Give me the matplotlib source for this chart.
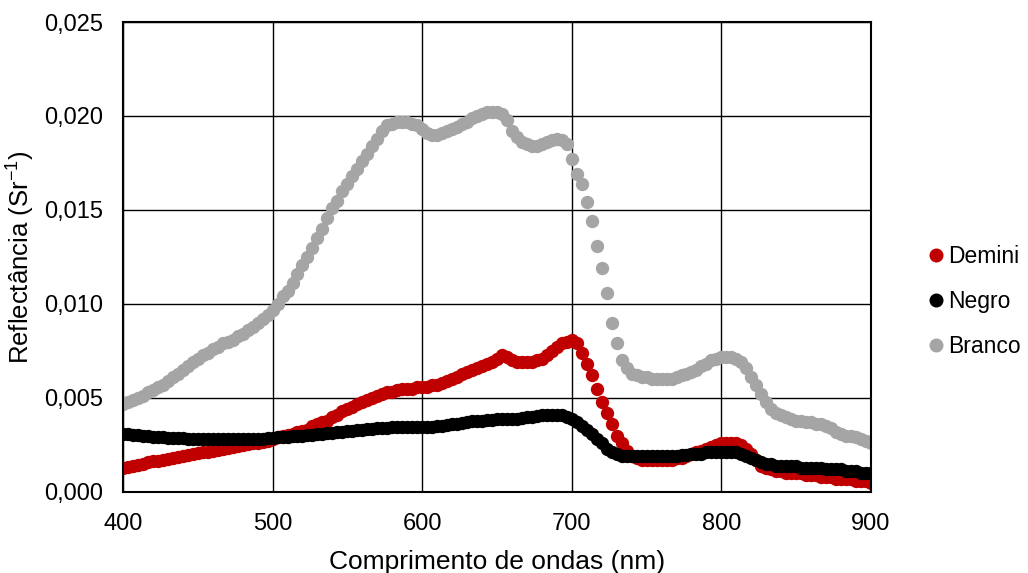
import numpy as np
import matplotlib.pyplot as plt
from matplotlib.ticker import FuncFormatter

# wavelength grid (nm), one reading every 10/3 nm
wavelength = np.linspace(400, 900, 151)

# reflectance values (Sr^-1), rows of 15 = 50 nm each
demini = [
    0.00130, 0.00135, 0.00140, 0.00145, 0.00150, 0.00158, 0.00163, 0.00167, 0.00170, 0.00176, 0.00180, 0.00185, 0.00190, 0.00195, 0.00200,
    0.00206, 0.00210, 0.00215, 0.00220, 0.00225, 0.00230, 0.00235, 0.00240, 0.00245, 0.00250, 0.00255, 0.00260, 0.00263, 0.00267, 0.00270,
    0.00280, 0.00290, 0.00300, 0.00305, 0.00310, 0.00320, 0.00325, 0.00330, 0.00350, 0.00360, 0.00370, 0.00380, 0.00400, 0.00410, 0.00430,
    0.00440, 0.00450, 0.00470, 0.00480, 0.00490, 0.00500, 0.00510, 0.00520, 0.00530, 0.00530, 0.00540, 0.00550, 0.00550, 0.00550, 0.00560,
    0.00560, 0.00560, 0.00570, 0.00570, 0.00580, 0.00590, 0.00600, 0.00610, 0.00630, 0.00640, 0.00650, 0.00660, 0.00670, 0.00680, 0.00690,
    0.00710, 0.00730, 0.00720, 0.00700, 0.00690, 0.00690, 0.00690, 0.00690, 0.00700, 0.00710, 0.00730, 0.00750, 0.00770, 0.00790, 0.00800,
    0.00810, 0.00790, 0.00740, 0.00680, 0.00620, 0.00550, 0.00480, 0.00420, 0.00360, 0.00300, 0.00260, 0.00220, 0.00190, 0.00180, 0.00170,
    0.00170, 0.00170, 0.00170, 0.00170, 0.00170, 0.00170, 0.00180, 0.00180, 0.00190, 0.00200, 0.00210, 0.00220, 0.00230, 0.00240, 0.00250,
    0.00260, 0.00260, 0.00260, 0.00260, 0.00250, 0.00230, 0.00200, 0.00170, 0.00140, 0.00130, 0.00120, 0.00110, 0.00110, 0.00100, 0.00100,
    0.00100, 0.00100, 0.00090, 0.00090, 0.00090, 0.00080, 0.00080, 0.00080, 0.00070, 0.00070, 0.00070, 0.00070, 0.00060, 0.00060, 0.00060,
    0.00050,
]

negro = [
    0.00310, 0.00308, 0.00305, 0.00302, 0.00300, 0.00298, 0.00295, 0.00292, 0.00290, 0.00288, 0.00287, 0.00286, 0.00285, 0.00284, 0.00283,
    0.00282, 0.00281, 0.00280, 0.00280, 0.00280, 0.00280, 0.00280, 0.00280, 0.00280, 0.00280, 0.00280, 0.00281, 0.00282, 0.00283, 0.00285,
    0.00287, 0.00290, 0.00292, 0.00295, 0.00297, 0.00300, 0.00300, 0.00302, 0.00305, 0.00307, 0.00310, 0.00313, 0.00315, 0.00318, 0.00320,
    0.00323, 0.00325, 0.00328, 0.00330, 0.00333, 0.00335, 0.00338, 0.00340, 0.00342, 0.00344, 0.00345, 0.00346, 0.00347, 0.00347, 0.00347,
    0.00347, 0.00347, 0.00348, 0.00350, 0.00353, 0.00356, 0.00360, 0.00364, 0.00368, 0.00372, 0.00375, 0.00378, 0.00380, 0.00382, 0.00384,
    0.00390, 0.00390, 0.00390, 0.00390, 0.00390, 0.00395, 0.00400, 0.00400, 0.00405, 0.00410, 0.00410, 0.00410, 0.00410, 0.00410, 0.00400,
    0.00390, 0.00370, 0.00350, 0.00330, 0.00310, 0.00280, 0.00260, 0.00230, 0.00210, 0.00200, 0.00190, 0.00190, 0.00190, 0.00190, 0.00190,
    0.00190, 0.00190, 0.00190, 0.00190, 0.00190, 0.00190, 0.00190, 0.00195, 0.00195, 0.00200, 0.00200, 0.00200, 0.00210, 0.00210, 0.00210,
    0.00210, 0.00210, 0.00210, 0.00210, 0.00200, 0.00190, 0.00180, 0.00170, 0.00160, 0.00150, 0.00150, 0.00140, 0.00140, 0.00140, 0.00140,
    0.00140, 0.00130, 0.00130, 0.00130, 0.00130, 0.00130, 0.00120, 0.00120, 0.00120, 0.00120, 0.00110, 0.00110, 0.00110, 0.00100, 0.00100,
    0.00100,
]

branco = [
    0.0047, 0.0048, 0.0049, 0.0050, 0.0051, 0.0053, 0.0054, 0.0056, 0.0057, 0.0059, 0.0061, 0.0063, 0.0065, 0.0067, 0.0069,
    0.0071, 0.0073, 0.0074, 0.0076, 0.0077, 0.0079, 0.0080, 0.0081, 0.0083, 0.0084, 0.0086, 0.0088, 0.0090, 0.0092, 0.0094,
    0.0097, 0.0100, 0.0104, 0.0107, 0.0111, 0.0116, 0.0121, 0.0125, 0.0130, 0.0135, 0.0140, 0.0146, 0.0151, 0.0155, 0.0160,
    0.0164, 0.0168, 0.0172, 0.0176, 0.0180, 0.0184, 0.0188, 0.0192, 0.0195, 0.0196, 0.0197, 0.0197, 0.0197, 0.0196, 0.0195,
    0.0193, 0.0191, 0.0190, 0.0190, 0.0191, 0.0192, 0.0193, 0.0194, 0.0196, 0.0197, 0.0199, 0.0200, 0.0201, 0.0202, 0.0202,
    0.0202, 0.0201, 0.0198, 0.0192, 0.0189, 0.0186, 0.0185, 0.0184, 0.0184, 0.0185, 0.0186, 0.0187, 0.0188, 0.0187, 0.0185,
    0.0177, 0.0169, 0.0164, 0.0154, 0.0144, 0.0131, 0.0119, 0.0106, 0.0090, 0.0079, 0.0070, 0.0066, 0.0063, 0.0062, 0.0061,
    0.0061, 0.0060, 0.0060, 0.0060, 0.0060, 0.0060, 0.0061, 0.0062, 0.0063, 0.0064, 0.0065, 0.0067, 0.0068, 0.0070, 0.0071,
    0.0072, 0.0072, 0.0072, 0.0071, 0.0069, 0.0066, 0.0061, 0.0057, 0.0052, 0.0048, 0.0044, 0.0042, 0.0041, 0.0040, 0.0039,
    0.0038, 0.0038, 0.0037, 0.0037, 0.0036, 0.0036, 0.0035, 0.0034, 0.0032, 0.0031, 0.0030, 0.0030, 0.0029, 0.0028, 0.0027,
    0.0026,
]

series_names = ["Demini", "Negro", "Branco"]
series_colors = ["#C00000", "#000000", "#A5A5A5"]
x_ticks = [400, 500, 600, 700, 800, 900]
y_ticks = [0.000, 0.005, 0.010, 0.015, 0.020, 0.025]

plt.rcParams['font.family'] = ['Liberation Sans', 'DejaVu Sans']

fig = plt.figure(figsize=(10.28, 5.73), dpi=100)
ax = fig.add_axes([0.1196, 0.1414, 0.7277, 0.8202])

for name, values, color in zip(series_names, [demini, negro, branco], series_colors):
    ax.plot(wavelength, values, linestyle='none', marker='o', markersize=9.6,
            color=color, markeredgewidth=0, label=name)

ax.set_xlim(400, 900)
ax.set_ylim(0, 0.025)
ax.set_xticks(x_ticks)
ax.set_yticks(y_ticks)
ax.yaxis.set_major_formatter(FuncFormatter(lambda v, p: f"{v:.3f}".replace('.', ',')))
ax.tick_params(length=0, labelsize=17, colors='#000000')
ax.tick_params(axis='x', pad=15)
ax.tick_params(axis='y', pad=14)
ax.grid(True, color='#000000', linewidth=1.0)
ax.set_axisbelow(True)
for sp in ax.spines.values():
    sp.set_linewidth(1.5)
    sp.set_color('#000000')

ax.set_xlabel("Comprimento de ondas (nm)", fontsize=19, labelpad=11)
ax.set_ylabel("Reflectância (Sr$^{\\mathregular{-1}}$)", fontsize=18.5, labelpad=6)

fig.legend(loc='center left', bbox_to_anchor=(0.9, 0.474), frameon=False,
           fontsize=16.5, handletextpad=0.1, handlelength=0.9, labelspacing=0.95,
           markerscale=1.05, borderaxespad=0, borderpad=0)

fig.savefig("out.png", dpi=100)
